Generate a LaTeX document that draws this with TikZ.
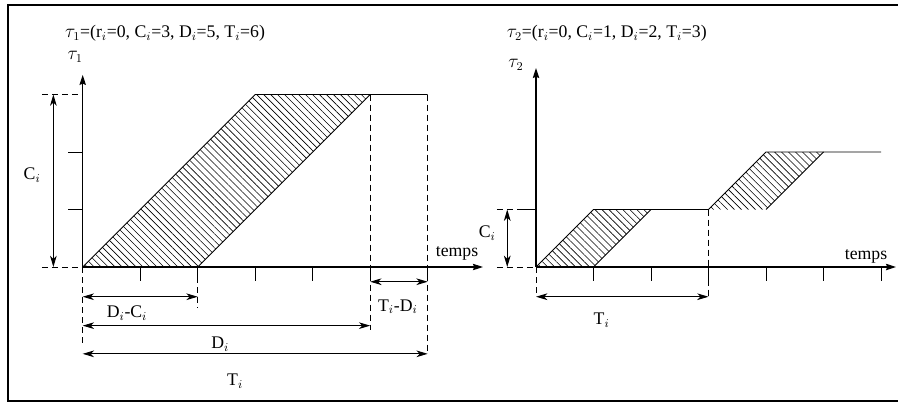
\documentclass[tikz,border=0pt]{standalone}
\usepackage{fontspec}
\setmainfont{Liberation Serif}
\usetikzlibrary{arrows.meta,patterns.meta}
\tikzset{
  axis/.style={line width=0.8pt,-{Stealth[length=7.5pt,width=4.8pt,inset=1pt]}},
  curve/.style={line width=0.7pt},
  tick/.style={line width=0.7pt},
  dsh/.style={line width=0.6pt,dash pattern=on 4.5pt off 3pt},
  dim/.style={line width=0.7pt,{Stealth[length=8.5pt,width=5pt,inset=2.5pt]}-{Stealth[length=8.5pt,width=5pt,inset=2.5pt]}},
  hatch/.style={pattern={Lines[angle=-45,distance=3.7pt,line width=0.45pt]}},
  lbl/.style={inner sep=0pt,font=\fontsize{13.3}{15}\selectfont},
  chart/.style={x=43.125pt,y=43.125pt}
}
\begin{document}
\begin{tikzpicture}[x=0.75pt,y=-0.75pt]
\useasboundingbox (0,0) rectangle (898,403);
\draw[line width=1.6pt] (8,5) rectangle (915,401);
% ---------- left chart ----------
\begin{scope}[shift={(82.7,267)},chart]
  \coordinate (Ao) at (0,0);
  \coordinate (Ay) at (0,3.34);
  \coordinate (Ax) at (6.96,0);
  \coordinate (Al) at (-0.71,0);
  \coordinate (Atl) at (-0.71,3);
  \coordinate (A3) at (0,3);
  \coordinate (P0) at (0,0);
  \coordinate (P2) at (2,0);
  \coordinate (P5) at (5,3);
  \coordinate (P3) at (3,3);
  \coordinate (P6) at (6,3);
  \fill[hatch] (P0) -- (P2) -- (P5) -- (P3) -- cycle;
  \draw[curve] (P0) -- (P3) -- (P6);
  \draw[curve] (P2) -- (P5);
  \draw[axis] (Ao) -- (Ay);
  \draw[axis] (Ao) -- (Ax);
  \draw[dsh] (Al) -- (Ao);
  \draw[dsh] (Atl) -- (A3);
  \foreach \k in {1,2} \draw[tick] (-0.25,\k) -- (0,\k);
  \foreach \k in {1,...,6} \draw[tick] (\k,0) -- (\k,-0.245);
  % dashed verticals
  \coordinate (V0) at (0,-1.39);
  \coordinate (V2) at (2,-0.71);
  \coordinate (V5) at (5,-1.1);
  \coordinate (V6) at (6,-1.51);
  \draw[dsh] (Ao) -- (V0);
  \draw[dsh] (P2) -- (V2);
  \draw[dsh] (P5) -- (V5);
  \draw[dsh] (P6) -- (V6);
  % dimension arrows
  \coordinate (dcL) at (0,-0.517); \coordinate (dcR) at (2,-0.517);
  \coordinate (dL) at (0,-1.02); \coordinate (dR) at (5,-1.02);
  \coordinate (tL) at (0,-1.51); \coordinate (tR) at (6,-1.51);
  \coordinate (tdL) at (5,-0.256); \coordinate (tdR) at (6,-0.256);
  \coordinate (cB) at (-0.51,0); \coordinate (cT) at (-0.51,3);
  \draw[dim] (dcL) -- (dcR);
  \draw[dim] (dL) -- (dR);
  \draw[dim] (tL) -- (tR);
  \draw[dim] (tdL) -- (tdR);
  \draw[dim] (cB) -- (cT);
  \node[lbl] (lDC) at (0.77,-0.80) {D$_i$-C$_i$};
  \node[lbl] (lD) at (2.39,-1.34) {D$_i$};
  \node[lbl] (lT) at (2.65,-1.99) {T$_i$};
  \node[lbl] (lTD) at (5.48,-0.69) {T$_i$-D$_i$};
  \node[lbl] (lC) at (-0.88,1.6) {C$_i$};
  \node[lbl] (lt) at (6.51,0.24) {temps};
  \node[lbl,anchor=west] (title1) at (-0.31,4.07) {$\tau_1$=(r$_i$=0, C$_i$=3, D$_i$=5, T$_i$=6)};
  \node[lbl] (tau1) at (-0.13,3.65) {$\tau_1$};
\end{scope}
% ---------- right chart ----------
\begin{scope}[shift={(536,267)},chart]
  \coordinate (Bo) at (0,0);
  \coordinate (By) at (0,3.46);
  \coordinate (Bx) at (6.26,0);
  \coordinate (Bl) at (-0.68,0);
  \coordinate (Bl1) at (-0.68,1);
  \coordinate (Bt1) at (-0.25,1);
  \coordinate (B1) at (0,1);
  \coordinate (Q0) at (0,0);
  \coordinate (Q1) at (1,0);
  \coordinate (Q11) at (1,1);
  \coordinate (Q21) at (2,1);
  \coordinate (Q31) at (3,1);
  \coordinate (Q41) at (4,1);
  \coordinate (Q42) at (4,2);
  \coordinate (Q52) at (5,2);
  \coordinate (Q62) at (6,2);
  \fill[hatch] (Q0) -- (Q1) -- (Q21) -- (Q11) -- cycle;
  \fill[hatch] (Q31) -- (Q41) -- (Q52) -- (Q42) -- cycle;
  \draw[curve] (Q0) -- (Q11) -- (Q31) -- (Q42) -- (Q62);
  \draw[curve] (Q1) -- (Q21);
  \draw[curve] (Q41) -- (Q52);
  \draw[axis] (Bo) -- (By);
  \draw[axis] (Bo) -- (Bx);
  \draw[dsh] (Bl) -- (Bo);
  \draw[dsh] (Bl1) -- (Bt1);
  \draw[tick] (Bt1) -- (B1);
  \foreach \k in {1,...,6} \draw[tick] (\k,0) -- (\k,-0.245);
  \coordinate (W0) at (0,-0.52);
  \coordinate (W3) at (3,-0.52);
  \draw[dsh] (Bo) -- (W0);
  \draw[dsh] (Q31) -- (W3);
  \coordinate (rtL) at (0,-0.517); \coordinate (rtR) at (3,-0.517);
  \coordinate (rcB) at (-0.5,0); \coordinate (rcT) at (-0.5,1);
  \draw[dim] (rtL) -- (rtR);
  \draw[dim] (rcB) -- (rcT);
  \node[lbl] (rT) at (1.14,-0.92) {T$_i$};
  \node[lbl] (rC) at (-0.85,0.59) {C$_i$};
  \node[lbl] (rt) at (5.74,0.18) {temps};
  \node[lbl,anchor=west] (title2) at (-0.51,4.07) {$\tau_2$=(r$_i$=0, C$_i$=1, D$_i$=2, T$_i$=3)};
  \node[lbl] (tau2) at (-0.35,3.51) {$\tau_2$};
\end{scope}
\end{tikzpicture}
\end{document}
